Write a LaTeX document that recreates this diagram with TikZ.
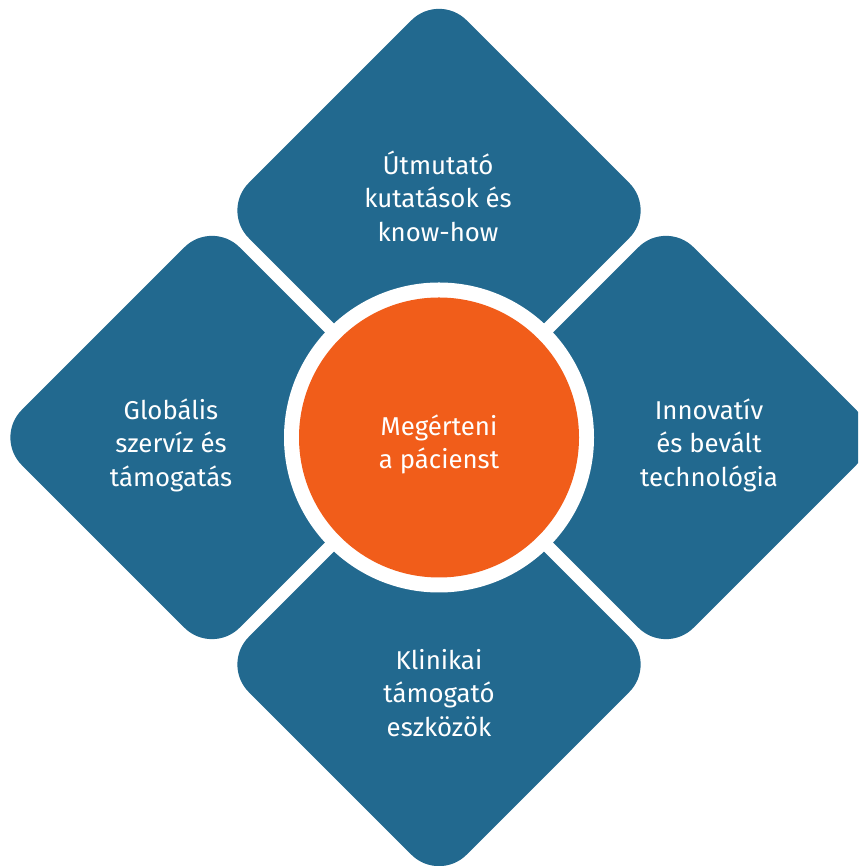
\documentclass[tikz,border=0pt]{standalone}
\usepackage{fontspec}
\setmainfont{Fira Sans}
\definecolor{petalblue}{HTML}{22698F}
\definecolor{coreorange}{HTML}{F15D1A}
\begin{document}
\begin{tikzpicture}[x=1pt,y=1pt,
  petal/.style={shape=rectangle, fill=petalblue, minimum size=308pt, inner sep=0pt, rounded corners=39pt, rotate=45},
  label/.style={text=white, align=center, font=\fontsize{25.8}{33.5}\selectfont, inner sep=0pt}]
\useasboundingbox (0,0) rectangle (858,866);
\clip (0,0) rectangle (858,866);
\node[petal] (ptop) at (439,655.5) {};
\node[petal] (pbottom) at (439,201.5) {};
\node[petal] (pleft) at (212,428.5) {};
\node[petal] (pright) at (666,428.5) {};
\node[circle, fill=white, minimum size=310pt, inner sep=0pt] (ring) at (439,428.5) {};
\node[circle, fill=coreorange, minimum size=280pt, inner sep=0pt] (core) at (ring.center) {};
\node[label] (ttop) at (438,670) {Útmutató\\kutatások és\\know-how};
\node[label] (tleft) at (171,421) {Globális\\szervíz és\\támogatás};
\node[label] (tright) at (709,421) {Innovatív\\és bevált\\technológia};
\node[label] (tbottom) at (439,173) {Klinikai\\támogató\\eszközök};
\node[label] (tcore) at (439,421.5) {Megérteni\\a pácienst};
\end{tikzpicture}
\end{document}
